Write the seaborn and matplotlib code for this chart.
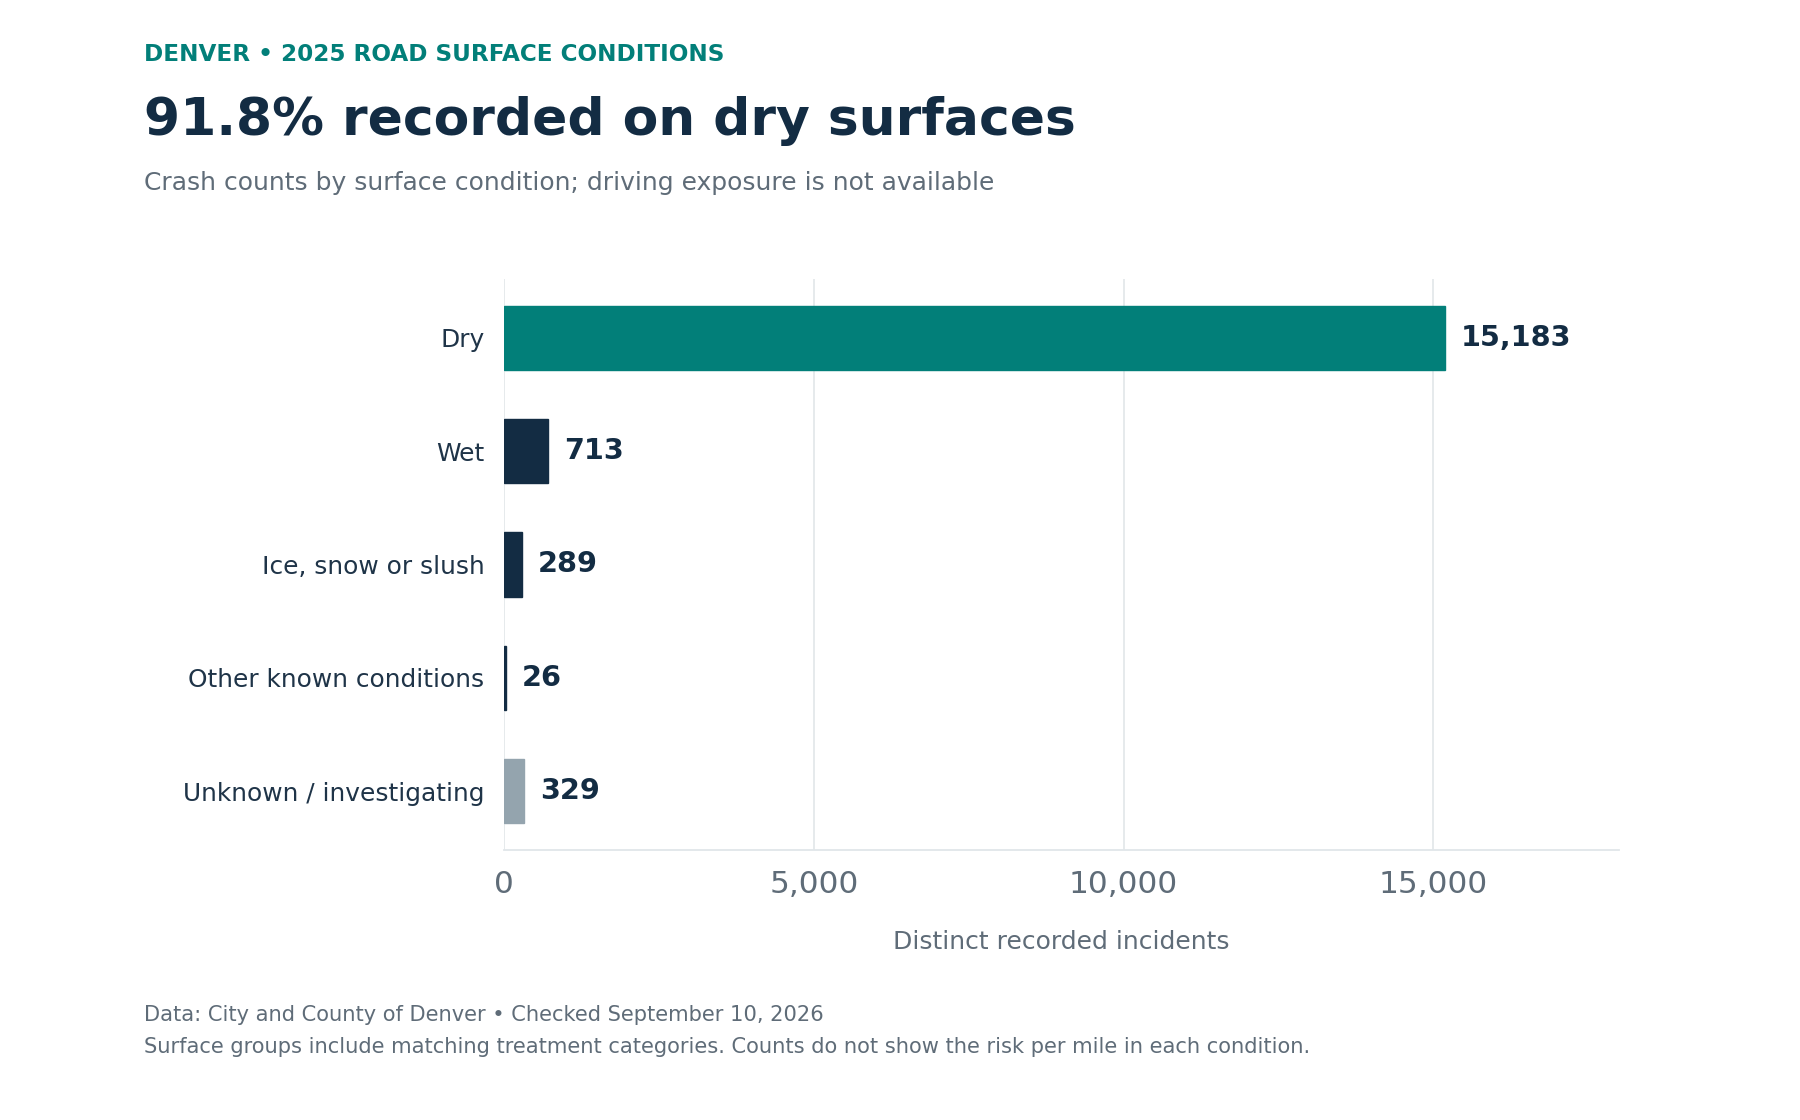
import matplotlib
matplotlib.use("Agg")
import matplotlib.pyplot as plt
import seaborn as sns
import pandas as pd

# data
conditions = ["Dry", "Wet", "Ice, snow or slush", "Other known conditions", "Unknown / investigating"]
counts = [15183, 713, 289, 26, 329]
bar_colors = ["#027f79", "#132c43", "#132c43", "#132c43", "#94a4ae"]
x_ticks = [0, 5000, 10000, 15000]

df = pd.DataFrame({"condition": conditions, "count": counts})

sns.set_theme(style="white")
plt.rcParams["font.family"] = ["DejaVu Sans"]

NAVY = "#132c43"
GREY = "#5f6c78"
TEAL = "#027f79"

fig = plt.figure(figsize=(18, 11.2), dpi=100)
ax = fig.add_axes([0.280, 0.241, 0.6195, 0.510])

sns.barplot(data=df, x="count", y="condition", hue="condition",
            palette=dict(zip(conditions, bar_colors)), legend=False,
            width=0.57, saturation=1, ax=ax)

# seaborn's style gives white bar edges; make edges match the fill
for bar in ax.patches:
    bar.set_edgecolor(bar.get_facecolor())
    bar.set_linewidth(1.0)

ax.set_xlim(0, 18000)
ax.set_ylim(len(conditions) - 0.48, -0.52)
ax.set_xticks(x_ticks)
ax.set_xticklabels([f"{t:,}" for t in x_ticks])
ax.tick_params(axis="x", labelsize=22.5, labelcolor=GREY, length=0, pad=14)
ax.tick_params(axis="y", labelsize=17.9, labelcolor="#1f3448", length=0, pad=14)
ax.grid(axis="x", color="#e4e8eb", linewidth=1.3)
ax.set_axisbelow(True)
for side in ["top", "right", "left"]:
    ax.spines[side].set_visible(False)
ax.spines["bottom"].set_color("#e1e6e9")
ax.spines["bottom"].set_linewidth(1.3)

ax.set_xlabel("Distinct recorded incidents", fontsize=18, color=GREY, labelpad=23)
ax.set_ylabel("")

# value labels
for i, v in enumerate(counts):
    ax.text(v + 260, i, f"{v:,}", va="center", ha="left",
            fontsize=20.7, fontweight="bold", color=NAVY)

# header and footer
fig.text(0.080, 0.951, "DENVER • 2025 ROAD SURFACE CONDITIONS", fontsize=16.7,
         fontweight="bold", color=TEAL, va="center")
fig.text(0.080, 0.892, "91.8% recorded on dry surfaces", fontsize=37.4,
         fontweight="bold", color=NAVY, va="center")
fig.text(0.080, 0.837, "Crash counts by surface condition; driving exposure is not available",
         fontsize=18, color=GREY, va="center")
fig.text(0.080, 0.094, "Data: City and County of Denver • Checked September 10, 2026",
         fontsize=15.1, color=GREY, va="center")
fig.text(0.080, 0.065, "Surface groups include matching treatment categories. Counts do not show the risk per mile in each condition.",
         fontsize=15.1, color=GREY, va="center")

fig.savefig("out.png", dpi=100, facecolor="white")
